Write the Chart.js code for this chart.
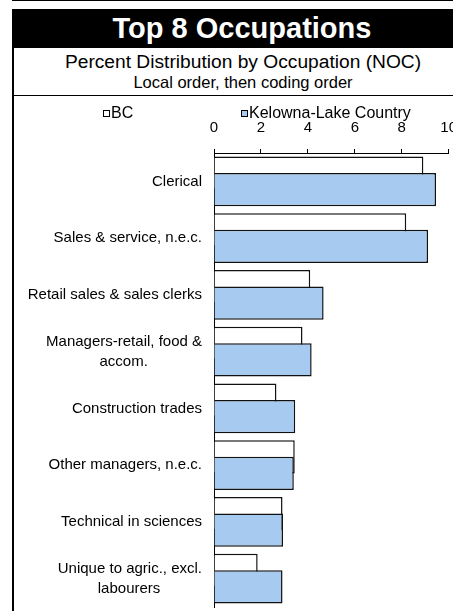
<!DOCTYPE html>
<html>
<head>
<meta charset="utf-8">
<script src="https://cdn.jsdelivr.net/npm/chart.js@4"></script>
<style>
  html, body { margin: 0; padding: 0; background: #fff; overflow: hidden; }
  body { width: 453px; height: 611px; position: relative; font-family: 'Liberation Sans', Arial, sans-serif; }
  .topline { position: absolute; left: 12px; top: 0; width: 441px; height: 1px; background: #000; }
  .titlebox { position: absolute; left: 12px; top: 9px; width: 460px; height: 39px; background: #000;
    color: #fff; font-weight: bold; font-size: 29px; line-height: 39px; text-align: center; }
  .subbox { position: absolute; left: 12px; top: 48px; width: 460px; height: 47px; border-left: 2px solid #000;
    box-sizing: border-box; text-align: center; color: #000; }
  .sub1 { position: absolute; left: 0; right: 0; top: 3px; font-size: 19.2px; line-height: 22px; }
  .sub2 { position: absolute; left: 0; right: 0; top: 24px; font-size: 16.5px; line-height: 20px; }
  .frame { position: absolute; left: 12px; top: 95px; width: 460px; height: 520px;
    border-top: 1px solid #000; border-left: 2px solid #000; box-sizing: border-box; }
  .chartbox { position: absolute; left: 13px; top: 96px; width: 470px; height: 515px; }
  #legend { position: absolute; left: 103px; top: 104px; font-size: 16px; color: #000; }
  #legend span.item { position: absolute; white-space: nowrap; line-height: 18px; }
  #legend span.box { display: inline-block; width: 5px; height: 5px; border: 1px solid #000;
    margin-right: 1px; vertical-align: 1px; }
</style>
</head>
<body>
<div class="topline"></div>
<div class="titlebox">Top 8 Occupations</div>
<div class="subbox">
  <div class="sub1">Percent Distribution by Occupation (NOC)</div>
  <div class="sub2">Local order, then coding order</div>
</div>
<div class="frame"></div>
<div class="chartbox"><canvas id="occChart"></canvas></div>
<div id="legend"></div>
<script>
// Occupations, local order
const occupations = [
    'Clerical',
    'Sales & service, n.e.c.',
    'Retail sales & sales clerks',
    ['Managers-retail, food &', 'accom.'],
    'Construction trades',
    'Other managers, n.e.c.',
    'Technical in sciences',
    ['Unique to agric., excl.', 'labourers']
];

// Percent of employed labour force
const bcValues = [8.92, 8.19, 4.10, 3.77, 2.66, 3.44, 2.92, 1.86];
const kelownaValues = [9.46, 9.12, 4.67, 4.16, 3.46, 3.40, 2.94, 2.92];

const xTicks = [0, 2, 4, 6, 8, 10];

const colors = {
    bc: '#ffffff',
    kelowna: '#a6caf0',
    border: '#111111'
};

const fontFamily = "'Liberation Sans', Arial, sans-serif";
const labelFont = '15px ' + fontFamily;

// centre the lines of a two-line label (chart.js only right-aligns them)
function centerLines(lines) {
    const ctx = document.createElement('canvas').getContext('2d');
    ctx.font = labelFont;
    const widest = Math.max(...lines.map(l => ctx.measureText(l).width));
    const sp = ctx.measureText('\u00a0').width;
    return lines.map(l => l + '\u00a0'.repeat(Math.round((widest - ctx.measureText(l).width) / 2 / sp)));
}

// legend in html so the two items can sit apart like the original
const htmlLegend = {
    id: 'htmlLegend',
    afterUpdate(chart) {
        const box = document.getElementById('legend');
        box.innerHTML = '';
        const lefts = [0, 138];
        chart.data.datasets.slice().reverse().forEach((ds, i) => {
            const item = document.createElement('span');
            item.className = 'item';
            item.style.left = lefts[i] + 'px';
            const sw = document.createElement('span');
            sw.className = 'box';
            sw.style.background = ds.backgroundColor;
            item.appendChild(sw);
            item.appendChild(document.createTextNode(ds.label));
            box.appendChild(item);
        });
    }
};

document.addEventListener('DOMContentLoaded', function () {
    // Kelowna goes first so it is drawn over BC; negative percentages flip the slots
    // so that BC still sits on the upper half of each pair
    const occChart = new Chart(document.getElementById('occChart'), {
        type: 'bar',
        data: {
            labels: occupations,
            datasets: [{
                label: 'Kelowna-Lake Country',
                data: kelownaValues,
                backgroundColor: colors.kelowna,
                borderColor: colors.border,
                borderWidth: 1.5,
                borderSkipped: 'start'
            }, {
                label: 'BC',
                data: bcValues,
                backgroundColor: colors.bc,
                borderColor: colors.border,
                borderWidth: 1.5,
                borderSkipped: 'start'
            }]
        },
        options: {
            indexAxis: 'y',
            responsive: true,
            maintainAspectRatio: false,
            animation: false,
            categoryPercentage: -0.587,
            barPercentage: -2,
            layout: {
                padding: { left: 0, right: 34.3, top: 11, bottom: 4 }
            },
            plugins: {
                legend: { display: false },
                tooltip: { enabled: false }
            },
            scales: {
                x: {
                    position: 'top',
                    min: 0,
                    max: 10,
                    afterBuildTicks: (scale) => {
                        scale.ticks = xTicks.map(v => ({ value: v }));
                    },
                    grid: {
                        drawOnChartArea: false,
                        drawTicks: true,
                        tickLength: 4,
                        color: '#000',
                        lineWidth: 1
                    },
                    border: { display: true, color: '#000', width: 1 },
                    ticks: {
                        color: '#000',
                        padding: 12,
                        maxRotation: 0,
                        font: { family: fontFamily, size: 15 }
                    }
                },
                y: {
                    afterFit: (scale) => {
                        scale.width = 201;
                        scale.paddingTop = 0;
                        scale.paddingBottom = 0;
                    },
                    grid: { display: false, drawTicks: false },
                    border: { display: true, color: '#000', width: 1 },
                    ticks: {
                        color: '#000',
                        padding: 12,
                        font: { family: fontFamily, size: 15, lineHeight: 1.3 },
                        callback: function (value) {
                            const lab = this.getLabelForValue(value);
                            return Array.isArray(lab) ? centerLines(lab) : lab;
                        }
                    }
                }
            }
        },
        plugins: [htmlLegend]
    });
});
</script>
</body>
</html>
